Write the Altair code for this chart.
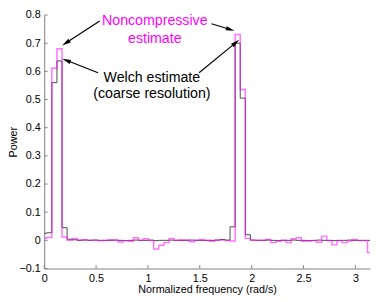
import math
import pandas as pd
import altair as alt

PI = math.pi
N_BINS = 64

# Power per frequency bin (bins centred on k*pi/64, k = 0..64)
nc_power = [0.008, 0.010, 0.611, 0.680, 0.012, 0.000, 0.007, 0.001, 0.002, 0.000,
            0.000, -0.001, 0.000, 0.002, 0.000, -0.006, -0.001, -0.003, 0.009, 0.000,
            0.006, -0.001, -0.031, -0.017, -0.008, 0.007, 0.000, 0.002, 0.001, -0.005,
            0.000, 0.003, 0.000, -0.003, 0.000, 0.001, -0.001, -0.002, 0.731, 0.536,
            0.007, 0.000, 0.000, 0.000, 0.003, -0.008, -0.003, 0.000, -0.008, 0.006,
            0.009, -0.003, -0.002, -0.001, -0.007, 0.015, -0.001, -0.016, -0.001, -0.008,
            -0.002, 0.003, -0.001, -0.001, -0.043]

welch_power = [0.025, 0.027, 0.560, 0.637, 0.045, 0.004, 0.002, 0.000, 0.001, 0.000,
               0.001, 0.000, -0.001, 0.000, 0.001, 0.000, -0.001, 0.000, 0.001, 0.000,
               0.000, 0.001, -0.001, 0.000, 0.000, 0.001, 0.000, -0.001, 0.000, 0.001,
               0.000, 0.000, -0.001, 0.000, 0.001, 0.003, 0.001, 0.048, 0.700, 0.505,
               0.020, 0.001, 0.000, 0.000, 0.001, 0.000, -0.001, 0.000, 0.000, 0.001,
               0.000, 0.000, -0.001, 0.000, 0.001, 0.000, 0.000, -0.001, 0.000, 0.000,
               0.001, 0.000, 0.000, 0.000, 0.000]

x_ticks = [0, 0.5, 1, 1.5, 2, 2.5, 3]
y_ticks = [-0.1, 0.0, 0.1, 0.2, 0.3, 0.4, 0.5, 0.6, 0.7, 0.8]

# annotation texts (x, y in data units)
ann_text = ["Noncompressive", "estimate", "Welch estimate", "(coarse resolution)"]
ann_x = [1.066, 1.066, 1.038, 1.038]
ann_y = [0.765, 0.702, 0.563, 0.507]
ann_col = ["#ff00ff", "#ff00ff", "#000000", "#000000"]

# arrows: start -> tip (data units)
arr_sx = [0.535, 1.613, 0.519, 1.493]
arr_sy = [0.779, 0.769, 0.595, 0.595]
arr_tx = [0.173, 1.835, 0.173, 1.880]
arr_ty = [0.692, 0.744, 0.645, 0.712]

W, H = 333, 259
YMIN, YMAX = -0.1, 0.8
FONT = "Liberation Sans"

edges = [0.0] + [(k + 0.5) * PI / N_BINS for k in range(N_BINS)] + [PI]


def stairs(vals):
    return pd.DataFrame({"f": edges, "p": list(vals) + [vals[-1]]})


xs = alt.Scale(domain=[0, PI], nice=False, zero=False)
ys = alt.Scale(domain=[YMIN, YMAX], nice=False, zero=False)

xaxis = alt.Axis(values=x_ticks, format=".1~f", grid=False, ticks=False,
                 domainColor="#808080", labelColor="#000000", labelFont=FONT,
                 labelFontSize=11, labelPadding=4, labelFlush=False,
                 title="Normalized frequency (rad/s)", titleFont=FONT,
                 titleFontSize=11, titleFontWeight="normal", titleColor="#000000",
                 titleX=W / 2, titleY=22, titleBaseline="middle", titleAlign="center")
yaxis = alt.Axis(values=y_ticks, format=".1~f", grid=False, ticks=False,
                 domainColor="#808080", labelColor="#000000", labelFont=FONT,
                 labelFontSize=11, labelPadding=4, labelFlush=False,
                 title="Power", titleFont=FONT, titleFontSize=11,
                 titleFontWeight="normal", titleColor="#000000",
                 titleAngle=270, titleX=-31, titleY=H / 2,
                 titleBaseline="middle", titleAlign="center")


def X(field):
    return alt.X(field, type="quantitative", scale=xs, axis=xaxis)


def Y(field):
    return alt.Y(field, type="quantitative", scale=ys, axis=yaxis)


welch = alt.Chart(stairs(welch_power)).mark_line(
    interpolate="step-after", color="#4a4a4a", strokeWidth=1, clip=True
).encode(x=X("f"), y=Y("p"))

nc = alt.Chart(stairs(nc_power)).mark_line(
    interpolate="step-after", color="#ff00ff", strokeWidth=1.5, opacity=0.55, clip=True
).encode(x=X("f"), y=Y("p"))

# inward ticks
xt = alt.Chart(pd.DataFrame({"f": x_ticks})).mark_rule(color="#808080", strokeWidth=1).encode(
    x=X("f"), y=alt.value(H), y2=alt.value(H - 3.5))
yt = alt.Chart(pd.DataFrame({"p": y_ticks})).mark_rule(color="#808080", strokeWidth=1).encode(
    y=Y("p"), x=alt.value(0), x2=alt.value(3.5))

# arrows
px_x = W / PI
px_y = H / (YMAX - YMIN)
HEAD = 4.5
rows = []
for sx, sy, tx, ty in zip(arr_sx, arr_sy, arr_tx, arr_ty):
    dx = (tx - sx) * px_x
    dy = -(ty - sy) * px_y
    L = math.hypot(dx, dy)
    ux, uy = dx / L, dy / L
    ang = math.degrees(math.atan2(dx, -dy)) % 360
    cx = tx - ux * HEAD / px_x
    cy = ty + uy * HEAD / px_y
    rows.append({"f": sx, "p": sy, "f2": cx, "p2": cy, "ang": ang})
arr = pd.DataFrame(rows)

shafts = alt.Chart(arr).mark_rule(color="black", strokeWidth=1.2).encode(
    x=X("f"), y=Y("p"), x2="f2:Q", y2="p2:Q")
heads = alt.Chart(arr).mark_point(
    shape="M0,-1L0.5,1L-0.5,1Z", filled=True, size=81, color="black", opacity=1
).encode(x=X("f2"), y=Y("p2"), angle=alt.Angle("ang:Q", scale=None))

texts = alt.Chart(pd.DataFrame({"f": ann_x, "p": ann_y, "t": ann_text, "c": ann_col})).mark_text(
    font=FONT, fontSize=14.5, align="center", baseline="alphabetic"
).encode(x=X("f"), y=Y("p"), text="t:N", color=alt.Color("c:N", scale=None))

chart = alt.layer(welch, nc, xt, yt, shafts, heads, texts).properties(
    width=W, height=H,
    padding={"left": 37, "top": 4, "right": 4, "bottom": 31},
    autosize=alt.AutoSizeParams(type="none"),
).configure_view(stroke=None)

chart.save("out.html", embed_options={"renderer": "svg", "actions": False})
